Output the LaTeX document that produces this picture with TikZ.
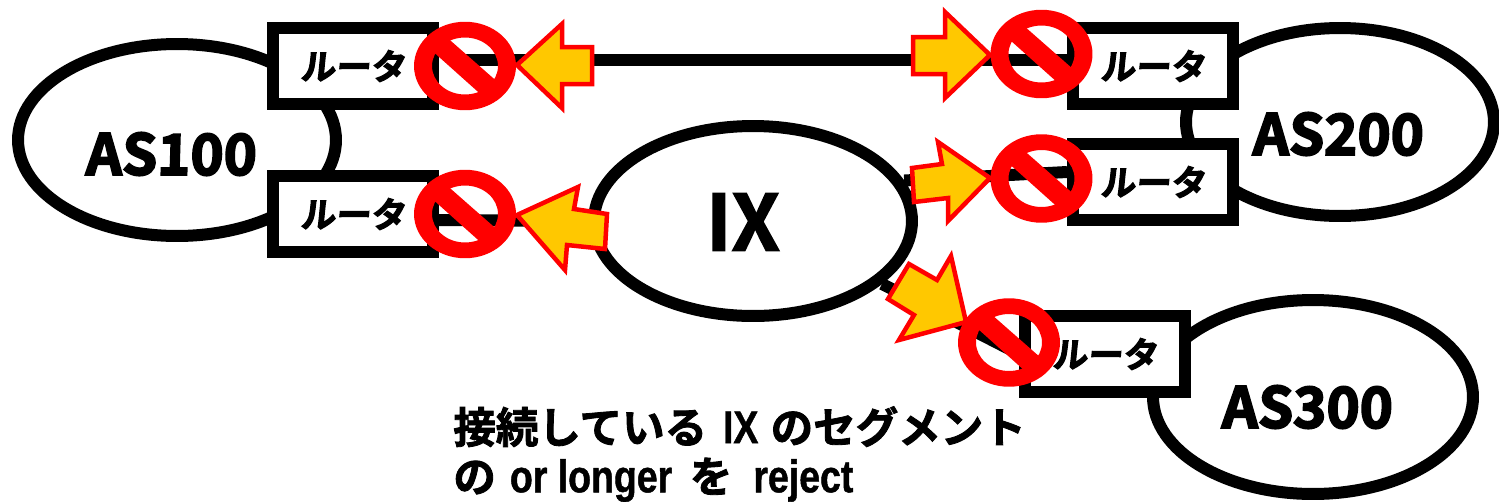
\documentclass[tikz,border=0pt]{standalone}
\usepackage{fontspec}
\usetikzlibrary{shapes.geometric}
\setmainfont{Noto Sans CJK JP}[BoldFont={Noto Sans CJK JP Bold}]
\newfontfamily\brushfont{Noto Sans CJK JP Bold}[FakeSlant=0.1,FakeBold=3]
\newfontfamily\asfont{Noto Sans CJK JP Bold}[FakeSlant=0.03,FakeBold=3.5]
\newfontfamily\plainjp{Noto Sans CJK JP Bold}[FakeBold=2]
\newfontfamily\narrowlat{Liberation Sans Bold}[FakeStretch=0.82,FakeBold=1]
\newcommand{\lat}[1]{{\narrowlat\fontsize{26}{28}\selectfont #1}}
\definecolor{arrowyellow}{HTML}{FFC800}
\tikzset{
  x=0.02cm,y=-0.02cm,
  cloud/.style={draw=black,fill=white,ellipse,line width=0.24cm,inner sep=0pt},
  routerbox/.style={draw=black,fill=white,rectangle,line width=0.24cm,inner sep=0pt,
    minimum width=3.2cm,minimum height=1.52cm,font=\brushfont\fontsize{20}{22}\selectfont},
  asname/.style={inner sep=0pt,font=\asfont\fontsize{32}{34}\selectfont},
  wire/.style={line width=0.24cm,draw=black},
  bigarrow/.style={draw=red,fill=arrowyellow,line width=0.09cm,line join=miter,miter limit=10},
  nosym/.pic={
    \fill[red,even odd rule] (0,0) ellipse [x radius=1.02cm,y radius=0.885cm]
       (0,0) ellipse [x radius=0.66cm,y radius=0.57cm];
    \fill[red] (-22,-32) -- (-36,-18) -- (21,33) -- (36,19) -- cycle;
  }
}
\begin{document}
\begin{tikzpicture}
\useasboundingbox (0,0) rectangle (1499,501);
% clouds
\node[cloud,minimum width=6.36cm,minimum height=3.84cm] (as100) at (177,140) {};
\node[cloud,minimum width=6.16cm,minimum height=3.76cm] (as200) at (1340,122) {};
\node[cloud,minimum width=6.4cm,minimum height=3.88cm] (as300) at (1313,397) {};
\node[cloud,minimum width=6.36cm,minimum height=3.8cm] (ix) at (753,221) {};
% routers
\node[routerbox] (r1) at (353,66) {\raisebox{-1pt}{ルータ}};
\node[routerbox] (r2) at (353,214) {\raisebox{-1pt}{ルータ}};
\node[routerbox] (r3) at (1153,66) {\raisebox{-1pt}{ルータ}};
\node[routerbox] (r4) at (1153,182) {\raisebox{-1pt}{ルータ}};
\node[routerbox] (r5) at (1105,354) {\raisebox{-1pt}{ルータ}};
% connectors
\draw[wire,shorten <=0.2cm] ([yshift=0.12cm]r1.east) -- ([yshift=0.12cm]r3.west);
\draw[wire] ([yshift=-0.12cm]r2.east) -- (ix.west);
\draw[wire] (ix.15) -- ([yshift=0.2cm]r4.west);
\draw[wire] (ix.-26) -- (r5.west);
% labels
\node[asname] (t100) at (171,154) {AS100};
\node[asname] (t200) at (1338,134) {AS200};
\node[asname] (t300) at (1307,407) {AS300};
\node[inner sep=0pt,font=\plainjp\fontsize{44}{46}\selectfont] (tix) at (743,222) {IX};
% arrows
\draw[bigarrow] (517,65) -- (562,24) -- (562,47) -- (592,47) -- (592,84) -- (562,84) -- (562,108) -- cycle;
\draw[bigarrow] (517,215) -- (578,187) -- (574,209) -- (607,214) -- (605,249) -- (567,245) -- (565,270) -- cycle;
\draw[bigarrow] (990,55) -- (945,12) -- (945,37) -- (913,37) -- (913,74) -- (945,74) -- (945,98) -- cycle;
\draw[bigarrow] (990,178) -- (938,142) -- (942,164) -- (912,168) -- (914,202) -- (948,198) -- (948,221) -- cycle;
\draw[bigarrow] (966,322) -- (951,256) -- (937,280) -- (909,264) -- (888,299) -- (914,315) -- (899,340) -- cycle;
% prohibition signs
\pic (n1) at (465,66) {nosym};
\pic (n2) at (465,214) {nosym};
\pic (n3) at (1041.5,54) {nosym};
\pic (n4) at (1041.5,178.5) {nosym};
\pic (n5) at (1009,342.5) {nosym};
% caption
\node[anchor=north west,inner sep=0pt,align=left,font=\plainjp\fontsize{24.2}{28}\selectfont] (cap) at (453,406)
 {接続している\hspace{9pt}\lat{IX}\hspace{7pt}のセグメント\\の\hspace{8pt}\lat{or longer}\hspace{10pt}を\hspace{12pt}\lat{reject}};
\end{tikzpicture}
\end{document}
